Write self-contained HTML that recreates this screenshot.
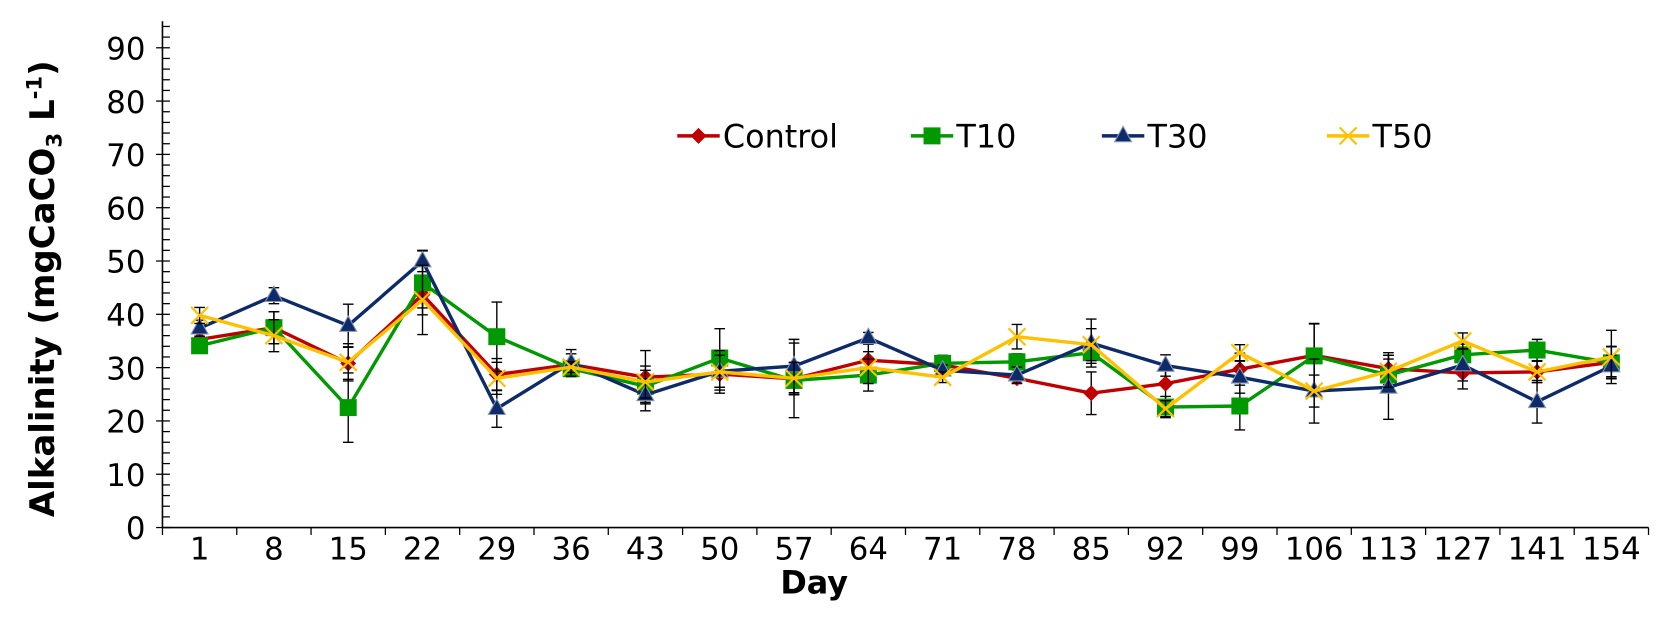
<!DOCTYPE html>
<html><head><meta charset="utf-8"><style>
body{margin:0;background:#fff;width:1656px;height:639px;overflow:hidden}
svg{font-family:"DejaVu Sans","Liberation Sans",sans-serif;display:block}
</style></head><body>
<svg id="chart" width="1656" height="639" viewBox="0 0 1560 602">
<g id="axes"></g><g id="series"></g><g id="legend"></g>
<text x="767" y="559" text-anchor="middle" font-size="30" font-weight="bold">Day</text>
<text transform="translate(51,272) rotate(-90)" text-anchor="middle" font-size="32" font-weight="bold">Alkalinity (mgCaCO<tspan font-size="20" dy="7">3</tspan><tspan dy="-7"> L</tspan><tspan font-size="20" dy="-12">-1</tspan><tspan dy="12">)</tspan></text>
</svg>
<script>
const days=["1","8","15","22","29","36","43","50","57","64","71","78","85","92","99","106","113","127","141","154"];
const yTicks=[0,10,20,30,40,50,60,70,80,90];
const seriesNames=["Control","T10","T30","T50"];
const control=[35.3,37.5,30.8,43.7,28.7,30.6,28.2,28.8,27.9,31.4,30.5,28.0,25.2,27.0,29.7,32.3,29.8,29.0,29.2,31.0];
const t10=[34.1,37.5,22.5,45.9,35.8,29.8,26.5,31.8,27.6,28.6,30.8,31.1,32.8,22.6,22.8,32.2,28.6,32.4,33.3,30.9];
const t30=[37.4,43.5,37.9,50.0,22.3,30.9,24.9,29.3,30.3,35.6,29.5,28.6,34.6,30.4,28.2,25.6,26.3,30.5,23.6,30.3];
const t50=[39.8,36.0,31.0,42.7,28.0,30.1,27.3,29.2,28.0,30.0,28.2,35.8,34.3,22.3,32.8,25.6,29.3,35.0,29.2,32.0];
const errControl=[1.5,3,3,2.5,3,2,5,3,3,3,1,1,4,3,3,6,3,3,2,3];
const errT10=[0.8,3,6.5,6,6.5,1.5,3,5.5,7,3,1.5,1.5,2,2,4.5,6,3,2,2,3];
const errT30=[1.5,1.5,4,2,3.5,2.5,3,3,5,1,1,1.5,4.5,2,3,6,6,3,4,2];
const errT50=[1.5,3,3.5,6.5,3,1,3,4,3,3,1,2.3,3,1.5,1.5,3,3,1.5,2,5];
const NS="http://www.w3.org/2000/svg";
const X0=153,X1=1553,Y0=497,PPU=5.022;
const cw=(X1-X0)/days.length;
function xS(i){return X0+cw*(i+0.5);}
function yS(v){return Y0-v*PPU;}
function mk(tag,attrs,parent){const e=document.createElementNS(NS,tag);for(const k in attrs)e.setAttribute(k,attrs[k]);parent.appendChild(e);return e;}
const axes=document.getElementById('axes');
let l=mk('line',{x1:X0,y1:20,x2:X0,y2:Y0,stroke:'#000','stroke-width':1.5},axes);


l=mk('line',{x1:X0,y1:Y0,x2:X1,y2:Y0,stroke:'#000','stroke-width':1.5},axes);


for(let v=0;v<=94;v+=2){mk('line',{x1:(v%10==0?X0-6:X0),y1:yS(v),x2:X0+7,y2:yS(v),stroke:'#000','stroke-width':1.2},axes);}
yTicks.forEach(v=>{const t=mk('text',{x:137,y:yS(v)+11,'text-anchor':'end','font-size':29},axes);t.textContent=v;

});
for(let i=0;i<=days.length;i++){mk('line',{x1:X0+cw*i,y1:Y0,x2:X0+cw*i,y2:Y0+7,stroke:'#000','stroke-width':1.2},axes);}
days.forEach((d,i)=>{const t=mk('text',{x:xS(i),y:527,'text-anchor':'middle','font-size':29},axes);t.textContent=d;

});
const data=[control,t10,t30,t50],errs=[errControl,errT10,errT30,errT50];
const colors=['#c00000','#009900','#0d2a6b','#ffc000'];
const sg=document.getElementById('series');
function marker(k,x,y,g){
 if(k==0)return mk('path',{d:`M${x} ${y-7.5}L${x+7.5} ${y}L${x} ${y+7.5}L${x-7.5} ${y}Z`,fill:colors[0]},g);
 if(k==1)return mk('rect',{x:x-8,y:y-8,width:16,height:16,fill:colors[1]},g);
 if(k==2)return mk('path',{d:`M${x} ${y-9}L${x+8} ${y+5.5}L${x-8} ${y+5.5}Z`,fill:colors[2],stroke:'#8896b0','stroke-width':1},g);
 const p=mk('path',{d:`M${x-8} ${y-8}L${x+8} ${y+8}M${x+8} ${y-8}L${x-8} ${y+8}`,stroke:colors[3],'stroke-width':2},g);return p;
}
data.forEach((s,k)=>{
 const g=mk('g',{},sg);
 
 
 s.forEach((v,i)=>{const x=xS(i),e=errs[k][i];
  mk('path',{d:`M${x} ${yS(v-e)}V${yS(v+e)}M${x-5} ${yS(v-e)}H${x+5}M${x-5} ${yS(v+e)}H${x+5}`,stroke:'#000','stroke-width':1.3,fill:'none'},g);});
});
data.forEach((s,k)=>{
 const g=sg.children[k];
 const pl=mk('polyline',{points:s.map((v,i)=>xS(i)+','+yS(v)).join(' '),fill:'none',stroke:colors[k],'stroke-width':3.2},g);
 
 
 s.forEach((v,i)=>{const m=marker(k,xS(i),yS(v),g);
  
  });
});
const lg=document.getElementById('legend');
const lx=[638,858,1038,1250];
seriesNames.forEach((n,k)=>{
 const g=mk('g',{},lg);
 
 
 mk('line',{x1:lx[k],y1:128,x2:lx[k]+40,y2:128,stroke:colors[k],'stroke-width':3.2},g);
 marker(k,lx[k]+20,128,g);
 const t=mk('text',{x:lx[k]+43,y:139,'font-size':30},g);t.textContent=n;
});
</script>
</body></html>
